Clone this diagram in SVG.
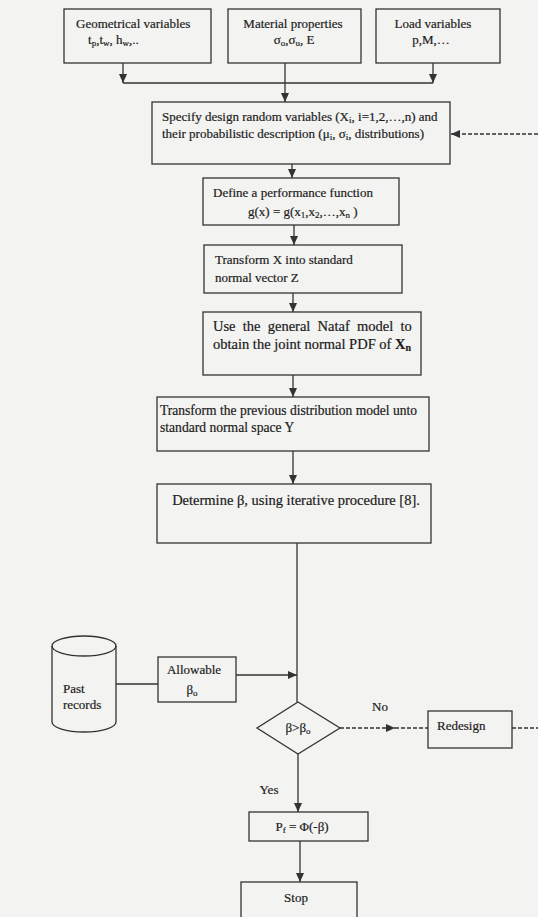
<svg xmlns="http://www.w3.org/2000/svg" width="538" height="917" viewBox="0 0 538 917">
<style>
.box{fill:none;stroke:#333;stroke-width:1.3}
.t{font-family:"Liberation Serif","Times New Roman",serif;font-size:13px;fill:#1c1c1c;stroke:#1c1c1c;stroke-width:0.2}
.L{font-size:14.5px}
.M{font-size:13.6px}
.c{text-anchor:middle}
.ln{fill:none;stroke:#333;stroke-width:1.3}
.dash{stroke-dasharray:4 2}
.s{font-size:9px}
.sL{font-size:10px}
</style>
<defs>
<marker id="ah" markerUnits="userSpaceOnUse" markerWidth="9" markerHeight="8" refX="9" refY="4" orient="auto">
<path d="M0,0 L9,4 L0,8 z" fill="#333"/>
</marker>
</defs>
<rect x="0" y="0" width="538" height="917" fill="#f3f3f1"/>

<g id="connectors">
<line class="ln" x1="123" y1="63" x2="123" y2="83" marker-end="url(#ah)"/>
<line class="ln" x1="433" y1="63" x2="433" y2="83" marker-end="url(#ah)"/>
<line class="ln" x1="123" y1="83" x2="433" y2="83"/>
<line class="ln" x1="285" y1="63" x2="285" y2="102" marker-end="url(#ah)"/>
<line class="ln dash" x1="538" y1="134" x2="451" y2="134" marker-end="url(#ah)"/>
<line class="ln" x1="292" y1="164" x2="292" y2="178" marker-end="url(#ah)"/>
<line class="ln" x1="294" y1="225" x2="294" y2="245" marker-end="url(#ah)"/>
<line class="ln" x1="293" y1="293" x2="293" y2="312" marker-end="url(#ah)"/>
<line class="ln" x1="293" y1="375" x2="293" y2="397" marker-end="url(#ah)"/>
<line class="ln" x1="293" y1="451" x2="293" y2="484" marker-end="url(#ah)"/>
<line class="ln" x1="297" y1="543" x2="297" y2="702"/>
<line class="ln" x1="116" y1="684" x2="158" y2="684"/>
<line class="ln" x1="236" y1="675" x2="297" y2="675" marker-end="url(#ah)"/>
<line class="ln dash" x1="340" y1="728" x2="395" y2="728" marker-end="url(#ah)"/>
<line class="ln dash" x1="395" y1="728" x2="428" y2="728"/>
<line class="ln dash" x1="512" y1="728" x2="538" y2="728"/>
<line class="ln" x1="298" y1="754" x2="298" y2="812" marker-end="url(#ah)"/>
<line class="ln" x1="300" y1="841" x2="300" y2="882" marker-end="url(#ah)"/>
<text class="t c" x="380" y="711">No</text>
<text class="t c" x="269" y="794">Yes</text>
</g>

<g id="geometrical">
<rect class="box" x="64" y="9" width="147" height="54"/>
<text class="t" x="76" y="28">Geometrical variables</text>
<text class="t" x="88" y="44">t<tspan class="s" dy="2">p</tspan><tspan dy="-2">,t</tspan><tspan class="s" dy="2">w</tspan><tspan dy="-2">, h</tspan><tspan class="s" dy="2">w</tspan><tspan dy="-2">,..</tspan></text>
</g>

<g id="material">
<rect class="box" x="228" y="9" width="133" height="54"/>
<text class="t c" x="293" y="28">Material properties</text>
<text class="t c" x="294" y="44">σ<tspan class="s" dy="2">o</tspan><tspan dy="-2">,σ</tspan><tspan class="s" dy="2">u</tspan><tspan dy="-2">, E</tspan></text>
</g>

<g id="load">
<rect class="box" x="376" y="9" width="124" height="54"/>
<text class="t c" x="433" y="28">Load variables</text>
<text class="t c" x="431" y="44">p,M,…</text>
</g>

<g id="specify">
<rect class="box" x="152" y="102" width="298" height="62"/>
<text class="t" x="162" y="121">Specify  design random variables (X<tspan class="s" dy="2">i</tspan><tspan dy="-2">, i=1,2,…,n) and</tspan></text>
<text class="t" x="162" y="138">their probabilistic description (μ<tspan class="s" dy="2">i</tspan><tspan dy="-2">, σ</tspan><tspan class="s" dy="2">i</tspan><tspan dy="-2">, distributions)</tspan></text>
</g>

<g id="define">
<rect class="box" x="203" y="178" width="196" height="47"/>
<text class="t" x="213" y="197">Define a performance function</text>
<text class="t" x="248" y="216">g(x) = g(x<tspan class="s" dy="2">1</tspan><tspan dy="-2">,x</tspan><tspan class="s" dy="2">2</tspan><tspan dy="-2">,…,x</tspan><tspan class="s" dy="2">n</tspan><tspan dy="-2"> )</tspan></text>
</g>

<g id="transform-z">
<rect class="box" x="204" y="245" width="198" height="48"/>
<text class="t" x="215" y="264">Transform X into standard</text>
<text class="t" x="215" y="282">normal vector Z</text>
</g>

<g id="nataf">
<rect class="box" x="203" y="312" width="218" height="63"/>
<text class="t L" x="213" y="331" word-spacing="3.6">Use the general Nataf model to</text>
<text class="t L" x="213" y="349">obtain the joint normal PDF of <tspan font-weight="bold">X</tspan><tspan class="sL" font-weight="bold" dy="2">n</tspan></text>
</g>

<g id="transform-y">
<rect class="box" x="157" y="397" width="272" height="54"/>
<text class="t M" x="160" y="415" textLength="257" lengthAdjust="spacingAndGlyphs">Transform the previous distribution model unto</text>
<text class="t M" x="160" y="432">standard normal space Y</text>
</g>

<g id="determine">
<rect class="box" x="157" y="484" width="274" height="59"/>
<text class="t c L" x="296" y="505">Determine β, using iterative procedure [8].</text>
</g>

<g id="past-records">
<path class="box" d="M52,646 A32,10 0 0,1 116,646 L116,722 A32,10 0 0,1 52,722 Z"/>
<path class="box" d="M52,646 A32,10 0 0,0 116,646"/>
<text class="t" x="63" y="693">Past</text>
<text class="t" x="63" y="709">records</text>
</g>

<g id="allowable">
<rect class="box" x="158" y="657" width="78" height="45"/>
<text class="t c" x="194" y="674">Allowable</text>
<text class="t c" x="192" y="694">β<tspan class="s" dy="2">o</tspan></text>
</g>

<g id="decision">
<polygon class="box" points="298,702 340,728 298,754 257,728"/>
<text class="t c" x="298" y="732">β&gt;β<tspan class="s" dy="2">o</tspan></text>
</g>

<g id="redesign">
<rect class="box" x="428" y="711" width="84" height="37"/>
<text class="t" x="437" y="730">Redesign</text>
</g>

<g id="pf">
<rect class="box" x="249" y="812" width="119" height="29"/>
<text class="t c" x="302" y="831">P<tspan class="s" dy="2">f</tspan><tspan dy="-2"> = Φ(-β)</tspan></text>
</g>

<g id="stop">
<rect class="box" x="241" y="882" width="116" height="50"/>
<text class="t c" x="296" y="902">Stop</text>
</g>
</svg>
